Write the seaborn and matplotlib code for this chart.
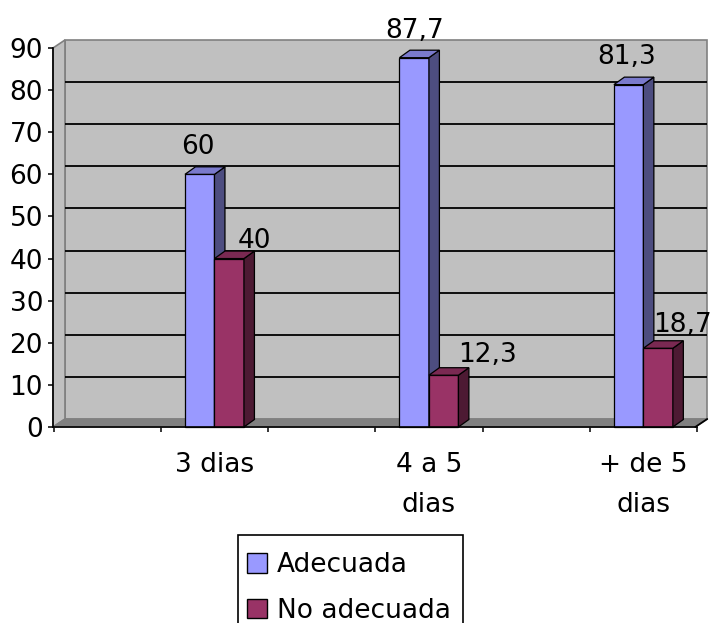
import matplotlib
matplotlib.use("Agg")
import matplotlib.pyplot as plt
import numpy as np
import pandas as pd
import seaborn as sns
from matplotlib.patches import Polygon, Patch, Rectangle
from matplotlib.colors import to_rgb

# Data
categorias = ["3 dias", "4 a 5\ndias", "+ de 5\ndias"]
series = ["Adecuada", "No adecuada"]
adecuada = [60, 87.7, 81.3]
no_adecuada = [40, 12.3, 18.7]
etiquetas = [["60", "87,7", "81,3"], ["40", "12,3", "18,7"]]
y_ticks = [0, 10, 20, 30, 40, 50, 60, 70, 80, 90]
colores = ["#9999FF", "#993366"]

df = pd.DataFrame({
    "categoria": categorias * 2,
    "serie": [series[0]] * 3 + [series[1]] * 3,
    "valor": adecuada + no_adecuada,
})

sns.set_theme(style="white")
plt.rcParams["font.family"] = ["DejaVu Sans"]
plt.rcParams["text.color"] = "black"
plt.rcParams["xtick.color"] = "black"
plt.rcParams["ytick.color"] = "black"
plt.rcParams["axes.labelcolor"] = "black"
FS = 19

W, H = 713, 623
fig = plt.figure(figsize=(W / 100, H / 100), dpi=100)
fig.patch.set_facecolor("white")
ax = fig.add_axes([53 / W, (H - 427) / H, 644 / W, 379 / H])

sns.barplot(data=df, x="categoria", y="valor", hue="serie", palette=colores,
            saturation=1, width=0.275, edgecolor="black", linewidth=0.9,
            legend=False, ax=ax)

x0, x1 = -0.753, 2.242
ymax = 90
ax.set_xlim(x0, x1)
ax.set_ylim(0, ymax)
ax.patch.set_visible(False)

# pixel -> data conversion for the depth offsets
fig.canvas.draw()
p0 = ax.transData.transform((0, 0))
p1 = ax.transData.transform((1, 1))
sx, sy = p1[0] - p0[0], p1[1] - p0[1]
wdx, wdy = 12 / sx, 8 / sy        # wall depth
bdx, bdy = 10.5 / sx, 7.5 / sy    # bar depth

# Back wall, left wall and floor
back = Polygon([(x0 + wdx, wdy), (x1 + wdx, wdy), (x1 + wdx, ymax + wdy), (x0 + wdx, ymax + wdy)],
               closed=True, fc="#C0C0C0", ec="#808080", lw=1.2, zorder=0.2, clip_on=False)
left = Polygon([(x0, 0), (x0 + wdx, wdy), (x0 + wdx, ymax + wdy), (x0, ymax)],
               closed=True, fc="#C0C0C0", ec="#808080", lw=1.2, zorder=0.3, clip_on=False)
floor = Polygon([(x0, 0), (x1, 0), (x1 + wdx, wdy), (x0 + wdx, wdy)],
                closed=True, fc="#808080", ec="#808080", lw=1.0, zorder=0.7, clip_on=False)
for poly in (back, left, floor):
    ax.add_patch(poly)
for v in y_ticks[1:-1]:
    ax.plot([x0 + wdx, x1 + wdx], [v + wdy, v + wdy], color="black", lw=1.3,
            zorder=0.5, clip_on=False, solid_capstyle="butt")
ax.plot([x1, x1 + wdx], [0, wdy], color="black", lw=1.3, zorder=0.8, clip_on=False)


def shade(c, f):
    r, g, b = to_rgb(c)
    return (r * f, g * f, b * f)


# label offsets in pixels (dx, dy) per series
desplaz = [[(-2, 20), (0, 20), (-2, 21)], [(25, 11), (44, 13), (24, 16)]]

# 3D faces on each bar
bars = [p for p in ax.patches if p not in (back, left, floor)]
for i, p in enumerate(bars):
    s = i // 3
    k = i % 3
    z = 3 + s * 0.5
    p.set_zorder(z)
    p.set_clip_on(False)
    bx, bw, bh = p.get_x(), p.get_width(), p.get_height()
    base = colores[s]
    side = Polygon([(bx + bw, 0), (bx + bw + bdx, bdy), (bx + bw + bdx, bh + bdy), (bx + bw, bh)],
                   closed=True, fc=shade(base, 0.5), ec="black", lw=0.9, zorder=z + 0.1,
                   clip_on=False, joinstyle="miter")
    top = Polygon([(bx, bh), (bx + bw, bh), (bx + bw + bdx, bh + bdy), (bx + bdx, bh + bdy)],
                  closed=True, fc=shade(base, 0.8), ec="black", lw=0.9, zorder=z + 0.1,
                  clip_on=False, joinstyle="miter")
    ax.add_patch(side)
    ax.add_patch(top)
    ax.annotate(etiquetas[s][k], (bx + bw / 2, bh), xytext=desplaz[s][k],
                textcoords="offset pixels", ha="center", va="baseline",
                fontsize=FS, color="black", annotation_clip=False, zorder=10)

# Axes styling
for sp in ("top", "right"):
    ax.spines[sp].set_visible(False)
for sp in ("left", "bottom"):
    ax.spines[sp].set_color("black")
    ax.spines[sp].set_linewidth(1.2)
    ax.spines[sp].set_zorder(5)

ax.set_yticks(y_ticks)
ax.set_yticklabels([str(v) for v in y_ticks], color="black")
ax.tick_params(axis="y", which="major", direction="out", length=3.6, width=1.1,
               color="black", labelcolor="black", labelsize=FS, pad=3.6, left=True)

ax.set_xticks([-0.75, -0.25, 0.25, 0.75, 1.25, 1.75, 2.25])
ax.set_xticklabels([])
ax.set_xticks([0, 1, 2], minor=True)
ax.set_xticklabels(categorias, minor=True, linespacing=1.7, color="black")
ax.tick_params(axis="x", which="major", direction="out", length=3.6, width=1.1,
               color="black", bottom=True)
ax.tick_params(axis="x", which="minor", length=0, labelsize=FS, pad=18,
               labelcolor="black")
ax.set_xlabel("")
ax.set_ylabel("")
ax.grid(False)

# Legend: entries without frame, box drawn as a rectangle that runs off the bottom
box_left, box_top, box_w = 238, 535, 225
handles = [Patch(fc=c, ec="black", lw=1.0) for c in colores]
leg = fig.legend(handles=handles, labels=series, loc="upper left",
                 bbox_to_anchor=(box_left / W, 1 - (box_top + 8) / H), frameon=False,
                 fontsize=FS, handlelength=0.74, handleheight=0.74,
                 handletextpad=0.38, borderpad=0.35, labelspacing=0.75,
                 borderaxespad=0)
for t in leg.get_texts():
    t.set_color("black")
fig.add_artist(Rectangle((box_left / W, -0.05), box_w / W, 1 - box_top / H + 0.05,
                         transform=fig.transFigure, fill=False, ec="black", lw=1.2,
                         zorder=4))

fig.savefig("out.png", dpi=100)
